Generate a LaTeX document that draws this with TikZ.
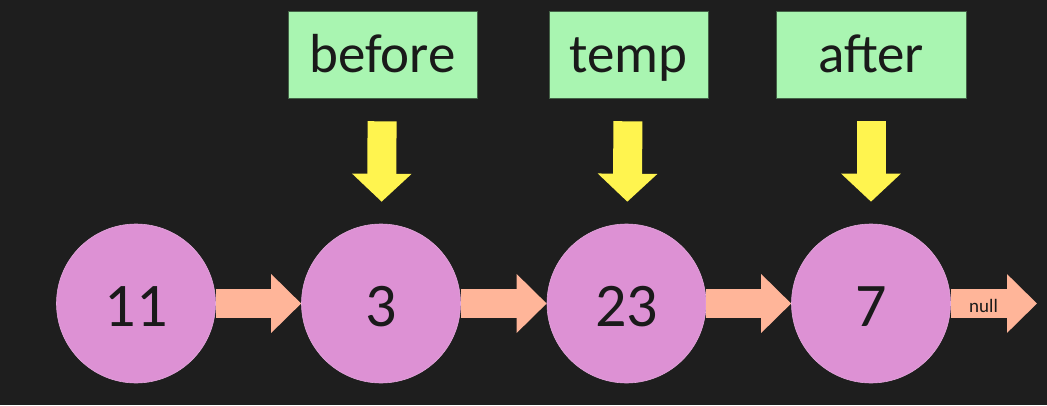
\documentclass[tikz,border=0pt]{standalone}
\usepackage{fontspec}
\setmainfont{Carlito}
\usepackage{tikz}
\usetikzlibrary{arrows.meta, positioning}
\definecolor{bgdark}{HTML}{1E1E1E}
\definecolor{nodepink}{HTML}{DD91D4}
\definecolor{ptrgreen}{HTML}{A9F5B1}
\definecolor{linkpeach}{HTML}{FFB599}
\definecolor{downyellow}{HTML}{FFF44F}
\definecolor{inkdark}{HTML}{1A1A1A}

\begin{document}
\begin{tikzpicture}[x=1pt,y=1pt,
  listnode/.style={circle,fill=nodepink,draw=nodepink!80!white,line width=0.6pt,minimum size=159pt,inner sep=0pt,text=inkdark,text height=55pt,text depth=10pt,font=\fontsize{62}{62}\selectfont},
  ptrbox/.style={rectangle,fill=ptrgreen,draw=ptrgreen!40!black,line width=0.6pt,minimum height=87pt,inner sep=0pt,text=inkdark,text height=45pt,text depth=8pt,font=\fontsize{55}{55}\selectfont},
  link/.style={draw=linkpeach,line width=29pt,-{Triangle[length=30pt,width=57pt]}},
  pointsto/.style={draw=downyellow,line width=29pt,-{Triangle[length=28pt,width=58pt]},shorten <=23pt,shorten >=22pt}]
\useasboundingbox[fill=bgdark] (0,0) rectangle (1047,405);
\node[listnode] (n11) at (136,101.5) {11};
\node[listnode] (n3) at (381,101.5) {3};
\node[listnode] (n23) at (626.5,101.5) {23};
\node[listnode] (n7) at (871,101.5) {7};
\coordinate (nullend) at (1037,101.5);

\node[ptrbox,minimum width=189pt] (before) at (382.5,350.5) {before};
\node[ptrbox,minimum width=159pt] (temp) at (628.5,350.5) {temp};
\node[ptrbox,minimum width=190pt] (after) at (871,350.5) {after};

\path[link] (n11) -- (n3);
\path[link] (n3) -- (n23);
\path[link] (n23) -- (n7);
\path[link] (n7) -- node[pos=0.38,text=inkdark,text height=19pt,text depth=2pt,font=\fontsize{19}{19}\selectfont] {null} (nullend);

\path[pointsto] (before) -- (n3);
\path[pointsto] (temp) -- (n23);
\path[pointsto] (after) -- (n7);
\end{tikzpicture}
\end{document}
